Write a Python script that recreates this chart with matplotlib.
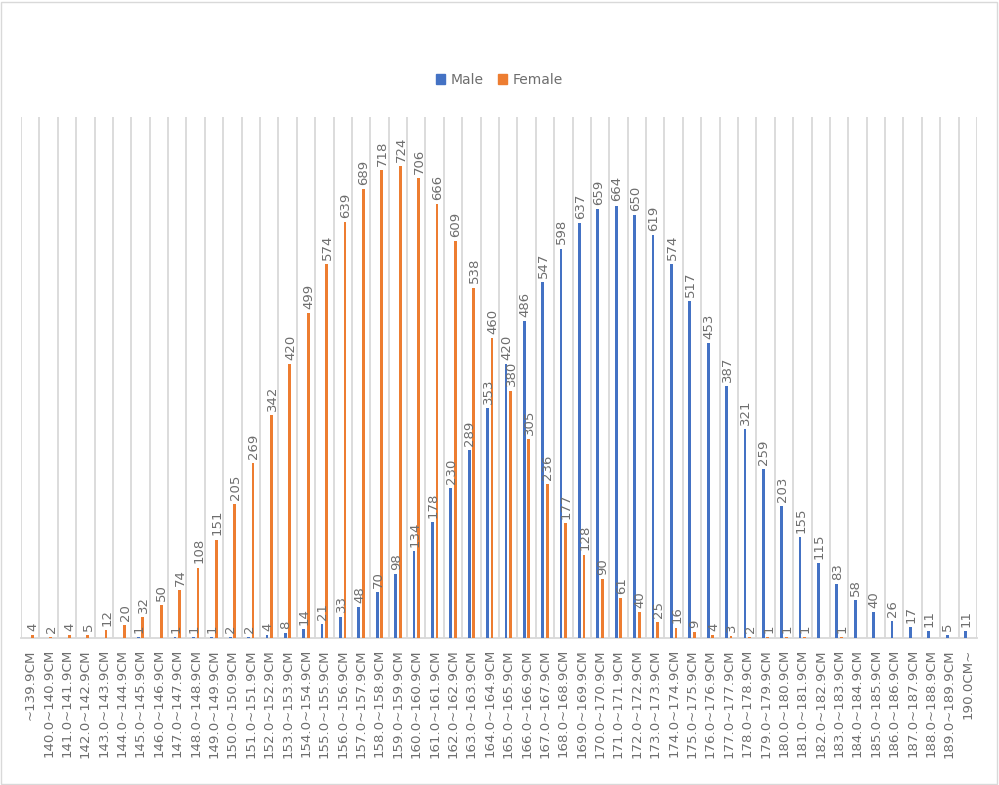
import numpy as np
import matplotlib.pyplot as plt
from matplotlib.patches import Rectangle, Patch

nan = np.nan

# Categorias (rangos de estatura)
categorias = ["~139.9CM",
              "140.0~140.9CM", "141.0~141.9CM", "142.0~142.9CM", "143.0~143.9CM", "144.0~144.9CM",
              "145.0~145.9CM", "146.0~146.9CM", "147.0~147.9CM", "148.0~148.9CM", "149.0~149.9CM",
              "150.0~150.9CM", "151.0~151.9CM", "152.0~152.9CM", "153.0~153.9CM", "154.0~154.9CM",
              "155.0~155.9CM", "156.0~156.9CM", "157.0~157.9CM", "158.0~158.9CM", "159.0~159.9CM",
              "160.0~160.9CM", "161.0~161.9CM", "162.0~162.9CM", "163.0~163.9CM", "164.0~164.9CM",
              "165.0~165.9CM", "166.0~166.9CM", "167.0~167.9CM", "168.0~168.9CM", "169.0~169.9CM",
              "170.0~170.9CM", "171.0~171.9CM", "172.0~172.9CM", "173.0~173.9CM", "174.0~174.9CM",
              "175.0~175.9CM", "176.0~176.9CM", "177.0~177.9CM", "178.0~178.9CM", "179.0~179.9CM",
              "180.0~180.9CM", "181.0~181.9CM", "182.0~182.9CM", "183.0~183.9CM", "184.0~184.9CM",
              "185.0~185.9CM", "186.0~186.9CM", "187.0~187.9CM", "188.0~188.9CM", "189.0~189.9CM",
              "190.0CM~"]

# Valores por serie (nan = sin barra)
male = [nan, nan, nan, nan, nan, nan, 1, nan, 1, 1,
        1, 2, 2, 4, 8, 14, 21, 33, 48, 70,
        98, 134, 178, 230, 289, 353, 420, 486, 547, 598,
        637, 659, 664, 650, 619, 574, 517, 453, 387, 321,
        259, 203, 155, 115, 83, 58, 40, 26, 17, 11,
        5, 11]
female = [4, 2, 4, 5, 12, 20, 32, 50, 74, 108,
          151, 205, 269, 342, 420, 499, 574, 639, 689, 718,
          724, 706, 666, 609, 538, 460, 380, 305, 236, 177,
          128, 90, 61, 40, 25, 16, 9, 4, 3, 2,
          1, 1, 1, nan, 1, nan, nan, nan, nan, nan,
          nan, nan]

azul = '#4472C4'
naranja = '#ED7D31'
gris = '#6E6E6E'
linea = '#D9D9D9'

plt.rcParams['font.family'] = ['DejaVu Sans']

fig = plt.figure(figsize=(9.99, 7.85), dpi=100)
ax = fig.add_axes([21 / 999, 1 - 638 / 785, (977 - 21) / 999, (638 - 117) / 785])

x = np.arange(len(categorias))
w = 0.15
off = 0.125
ax.bar(x - off, male, width=w, color=azul, label='Male', zorder=3)
ax.bar(x + off, female, width=w, color=naranja, label='Female', zorder=3)

# Etiquetas de datos
for xs, vals in ((x - off, male), (x + off, female)):
    for xi, v in zip(xs, vals):
        if np.isnan(v):
            continue
        ax.annotate(str(int(v)), (xi, v), xytext=(0.5, 3), textcoords='offset points',
                    rotation=90, ha='center', va='bottom', fontsize=9.5, color=gris)

ax.set_xlim(-0.5, len(categorias) - 0.5)
ax.set_ylim(0, 800)

# Lineas verticales entre categorias
ax.set_xticks(np.arange(-0.5, len(categorias)), minor=True)
ax.grid(which='minor', axis='x', color=linea, linewidth=1.3, zorder=0)
ax.set_xticks(x)
ax.set_xticklabels(categorias, rotation=90, fontsize=9.6, color=gris)
ax.tick_params(axis='x', which='both', length=0, pad=8)
ax.set_yticks([])

for s in ('top', 'left', 'right'):
    ax.spines[s].set_visible(False)
ax.spines['bottom'].set_color(linea)
ax.spines['bottom'].set_linewidth(1.3)

# Leyenda
handles = [Patch(color=azul, label='Male'), Patch(color=naranja, label='Female')]
fig.legend(handles=handles, loc='center', bbox_to_anchor=(0.5, 1 - 80 / 785), ncol=2,
           frameon=False, fontsize=10, labelcolor=gris, handlelength=0.65,
           handleheight=0.65, handletextpad=0.4, columnspacing=1.0)

# Borde del grafico
fig.patches.append(Rectangle((0.001, 0.001), 0.997, 0.997, transform=fig.transFigure,
                             fill=False, edgecolor=linea, linewidth=1))

fig.savefig('out.png', dpi=100)
